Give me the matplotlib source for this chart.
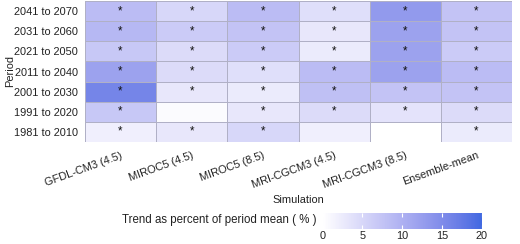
import numpy as np
import matplotlib
matplotlib.use('Agg')
import matplotlib.pyplot as plt
from matplotlib.colors import ListedColormap

plt.rcParams['font.family'] = ['Liberation Sans', 'DejaVu Sans']

periods = ['2041 to 2070', '2031 to 2060', '2021 to 2050', '2011 to 2040',
           '2001 to 2030', '1991 to 2020', '1981 to 2010']
sims = ['GFDL-CM3 (4.5)', 'MIROC5 (4.5)', 'MIROC5 (8.5)',
        'MRI-CGCM3 (4.5)', 'MRI-CGCM3 (8.5)', 'Ensemble-mean']

# trend as % of period mean, rows = periods (top to bottom)
trend = np.array([
    [8.5, 5.0, 8.5, 4.0, 13.0, 7.5],
    [9.0, 6.5, 7.5, 3.0, 12.0, 7.5],
    [7.0, 4.5, 6.5, 2.5, 12.0, 6.5],
    [12.0, 4.5, 4.0, 8.5, 12.0, 8.5],
    [16.0, 3.0, 2.5, 8.0, 7.5, 7.5],
    [7.0, 0.5, 3.0, 4.5, 3.5, 4.5],
    [2.0, 3.0, 5.0, 2.0, 0.0, 2.5],
])
signif = np.array([
    [1, 1, 1, 1, 1, 1],
    [1, 1, 1, 1, 1, 1],
    [1, 1, 1, 1, 1, 1],
    [1, 1, 1, 1, 1, 1],
    [1, 1, 1, 1, 1, 1],
    [1, 0, 1, 1, 1, 1],
    [1, 1, 1, 0, 0, 1],
])


# white -> royalblue gradient interpolated in Lab space (like ggplot)
def srgb_to_lab(rgb):
    c = np.asarray(rgb, float) / 255
    c = np.where(c > 0.04045, ((c + 0.055) / 1.055) ** 2.4, c / 12.92)
    m = np.array([[0.4124, 0.3576, 0.1805],
                  [0.2126, 0.7152, 0.0722],
                  [0.0193, 0.1192, 0.9505]])
    xyz = m @ c / np.array([0.95047, 1.0, 1.08883])
    f = np.where(xyz > 0.008856, np.cbrt(xyz), 7.787 * xyz + 16 / 116)
    return np.array([116 * f[1] - 16, 500 * (f[0] - f[1]), 200 * (f[1] - f[2])])


def lab_to_srgb(lab):
    L, a, b = lab
    fy = (L + 16) / 116
    fx = fy + a / 500
    fz = fy - b / 200
    f = np.array([fx, fy, fz])
    xyz = np.where(f ** 3 > 0.008856, f ** 3, (f - 16 / 116) / 7.787)
    xyz = xyz * np.array([0.95047, 1.0, 1.08883])
    m = np.array([[3.2406, -1.5372, -0.4986],
                  [-0.9689, 1.8758, 0.0415],
                  [0.0557, -0.2040, 1.0570]])
    c = m @ xyz
    c = np.where(c > 0.0031308, 1.055 * np.clip(c, 0, None) ** (1 / 2.4) - 0.055, 12.92 * c)
    return np.clip(c, 0, 1)


lo = srgb_to_lab([255, 255, 255])
hi = srgb_to_lab([65, 105, 225])
cols = [lab_to_srgb(lo + t * (hi - lo)) for t in np.linspace(0, 1, 256)]
cmap = ListedColormap(cols)
fs = 7.9
tc = '#222222'

fig = plt.figure(figsize=(5.2, 2.44), dpi=100)
ax = fig.add_axes([85/520, 1 - 142/244, 427/520, 141/244])

nr, nc = trend.shape
mesh = ax.pcolormesh(np.arange(nc + 1), np.arange(nr + 1), trend[::-1],
                     cmap=cmap, vmin=0, vmax=20,
                     edgecolors='#b0b0c6', linewidth=0.6)
for i in range(nr):
    for j in range(nc):
        if signif[i, j]:
            ax.text(j + 0.5, nr - i - 0.5, '*', ha='center', va='center',
                    fontsize=fs + 0.5, color='#111111')

ax.set_xlim(0, nc)
ax.set_ylim(0, nr)
ax.set_xticks(np.arange(nc) + 0.5)
ax.set_xticklabels(sims, rotation=20, ha='right', rotation_mode='anchor',
                   fontsize=fs, color=tc)
ax.set_yticks(np.arange(nr) + 0.5)
ax.set_yticklabels(periods[::-1], fontsize=fs, color=tc)
ax.tick_params(length=0, pad=5)
ax.tick_params(axis='x', pad=6)
for s in ax.spines.values():
    s.set_visible(False)

fig.text(298/520, 1 - 200/244, 'Simulation', ha='center', va='center',
         fontsize=fs, color=tc)
fig.text(10/520, 1 - 71/244, 'Period', ha='center', va='center',
         rotation=90, fontsize=fs, color=tc)

cax = fig.add_axes([322.7/520, 1 - 228.7/244, 159/520, 16/244])
cb = fig.colorbar(mesh, cax=cax, orientation='horizontal', ticks=[0, 5, 10, 15, 20])
cb.outline.set_visible(False)
cax.tick_params(axis='x', direction='in', color='white', length=3,
                width=0.8, top=True, labelcolor=tc, labelsize=fs, pad=2)
fig.text(316/520, 1 - 220/244, 'Trend as percent of period mean ( % )',
         ha='right', va='center', fontsize=8.3, color=tc)

fig.savefig('out.png', dpi=100)
